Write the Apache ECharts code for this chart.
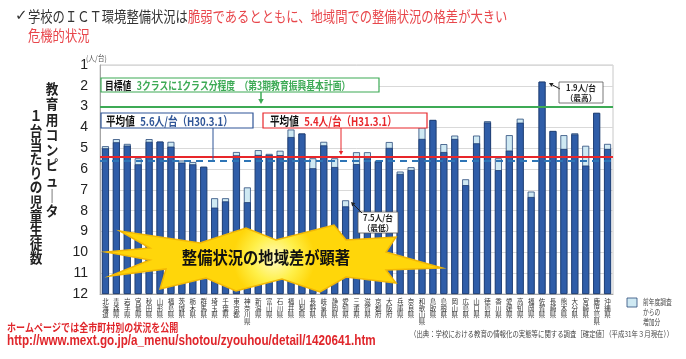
<!DOCTYPE html>
<html><head><meta charset="utf-8">
<script src="https://cdn.jsdelivr.net/npm/echarts@6/dist/echarts.min.js"></script>
<style>html,body{margin:0;padding:0;background:#fff}#c{width:686px;height:359px}</style>
</head><body><div id="c"></div>
<script>
// ---- data ----
const prefectures = ['北海道','青森県','岩手県','宮城県','秋田県','山形県','福島県','茨城県','栃木県','群馬県','埼玉県','千葉県','東京都','神奈川県','新潟県','富山県','石川県','福井県','山梨県','長野県','岐阜県','静岡県','愛知県','三重県','滋賀県','京都府','大阪府','兵庫県','奈良県','和歌山県','鳥取県','島根県','岡山県','広島県','山口県','徳島県','香川県','愛媛県','高知県','福岡県','佐賀県','長崎県','熊本県','大分県','宮崎県','鹿児島県','沖縄県'];
// students per computer, H31.3.1 (top of whole bar)
const currentValues = [4.9,4.56,4.79,5.48,4.56,4.68,4.69,5.59,5.66,5.89,7.4,7.4,5.18,6.88,5.09,5.27,5.12,4.1,4.29,5.48,4.69,5.48,7.5,5.19,5.19,5.59,4.7,6.12,5.91,4.0,3.64,4.8,4.39,6.49,4.39,3.7,5.48,4.37,3.58,7.08,1.8,4.17,4.37,4.28,4.88,3.3,4.79];
// students per computer, H30.3.1 (top of dark part)
const previousValues = [5.0,4.71,4.87,5.77,4.69,4.68,4.92,5.69,5.77,5.89,7.85,7.55,5.34,7.59,5.32,5.32,5.33,4.46,4.29,5.96,4.86,5.9,7.79,5.76,5.48,5.64,4.98,6.23,6.04,4.55,3.64,5.18,4.55,6.77,4.76,3.76,6.05,5.11,3.77,7.34,1.8,4.17,5.03,4.33,5.83,3.3,5.03];
const yTicks = [1,2,3,4,5,6,7,8,9,10,11,12];
const targetValue = 3;
const averageH31 = 5.4;
const averageH30 = 5.6;

const JP = '"Noto Sans CJK JP", sans-serif';
const chart = echarts.init(document.getElementById('c'), null, {renderer:'canvas'});

function arrow(x1,y1,x2,y2,color,w,hs){
  const dx=x2-x1, dy=y2-y1, L=Math.hypot(dx,dy), ux=dx/L, uy=dy/L;
  const bx=x2-ux*hs, by=y2-uy*hs, px=-uy*hs*0.55, py=ux*hs*0.55;
  return [
    {type:'line', shape:{x1,y1,x2:bx,y2:by}, style:{stroke:color,lineWidth:w}, z:20},
    {type:'polygon', shape:{points:[[x2,y2],[bx+px,by+py],[bx-px,by-py]]}, style:{fill:color}, z:20}
  ];
}
function vtext(str){ return str.split('').join('\n'); }

const burst = [[106,252],[150,248],[120,231],[200,243],[246,228],[276,240],[334,225],[346,240],[396,237],[386,252],[442,268],[386,270],[396,283],[346,277],[320,292],[282,279],[236,291],[206,278],[160,289],[166,269],[110,276],[150,260]];

const graphics = [
  {type:'text', x:15, y:16, style:{text:'✓', font:'15px "DejaVu Sans"', fill:'#333', textVerticalAlign:'middle'}},
  {type:'text', x:28, y:16, scaleX:0.82, style:{text:'{k|学校のＩＣＴ環境整備状況は}{r|脆弱であるとともに、地域間での整備状況の格差が大きい}', textVerticalAlign:'middle', rich:{k:{fill:'#333', font:'15px '+JP}, r:{fill:'#E8474C', font:'15px '+JP}}}},
  {type:'text', x:28, y:35, scaleX:0.82, style:{text:'危機的状況', fill:'#E8474C', font:'15px '+JP, textVerticalAlign:'middle'}},
  // y axis unit
  {type:'text', x:86, y:58, scaleX:0.85, style:{text:'(人/台)', fill:'#555', font:'8px '+JP, textVerticalAlign:'middle'}},
  // y axis title (vertical)
  {type:'text', x:52, y:81, scaleX:0.9, style:{text:vtext('教育用コンピュ｜タ'), fill:'#222', font:'bold 14px '+JP, lineHeight:15.3, textAlign:'center'}},
  {type:'text', x:36, y:109, scaleX:0.9, style:{text:vtext('１台当たりの児童生徒数'), fill:'#222', font:'bold 14px '+JP, lineHeight:14.2, textAlign:'center'}},
  // target box
  {type:'rect', shape:{x:101,y:78,width:278,height:14}, style:{fill:'#fff', stroke:'#3DAA55', lineWidth:1.2}, z:15},
  {type:'text', x:105, y:85.5, scaleX:0.8, z:16, style:{text:'{b|目標値}  {g|3クラスに1クラス分程度　（第3期教育振興基本計画）}', textVerticalAlign:'middle', rich:{b:{fill:'#111', font:'bold 11px '+JP}, g:{fill:'#3DAA55', font:'bold 11px '+JP}}}},
  ...arrow(261,92,261,104,'#3DAA55',1.5,5),
  // H30 average box
  {type:'rect', shape:{x:101,y:113,width:152,height:15}, style:{fill:'#fff', stroke:'#2F5597', lineWidth:1.2}, z:15},
  {type:'text', x:106, y:121, scaleX:0.8, z:16, style:{text:'{b|平均値}  {u|5.6人/台（H30.3.1）}', textVerticalAlign:'middle', rich:{b:{fill:'#111', font:'bold 12px '+JP}, u:{fill:'#2F5597', font:'bold 12px '+JP}}}},
  {type:'line', shape:{x1:213,y1:128,x2:213,y2:160}, style:{stroke:'#2F5597', lineWidth:1}, z:14},
  // H31 average box
  {type:'rect', shape:{x:263,y:113,width:164,height:15}, style:{fill:'#fff', stroke:'#E8262A', lineWidth:1.2}, z:15},
  {type:'text', x:270, y:121, scaleX:0.8, z:16, style:{text:'{b|平均値}  {r|5.4人/台（H31.3.1）}', textVerticalAlign:'middle', rich:{b:{fill:'#111', font:'bold 12px '+JP}, r:{fill:'#E8262A', font:'bold 12px '+JP}}}},
  ...arrow(341,128,341,155,'#E8262A',1,4),
  // lowest label
  {type:'rect', shape:{x:358,y:212,width:40,height:21}, style:{fill:'#fff', stroke:'#555', lineWidth:0.8}, z:15},
  {type:'text', x:378, y:222.5, scaleX:0.9, z:16, style:{text:'7.5人/台\n（最低）', fill:'#222', font:'bold 8.5px '+JP, lineHeight:10, textAlign:'center', textVerticalAlign:'middle'}},
  ...arrow(362,213,351,202,'#222',1,4),
  // highest label
  {type:'rect', shape:{x:559,y:82,width:44,height:21}, style:{fill:'#fff', stroke:'#555', lineWidth:0.8}, z:15},
  {type:'text', x:581, y:92.5, scaleX:0.9, z:16, style:{text:'1.9人/台\n（最高）', fill:'#222', font:'bold 8.5px '+JP, lineHeight:10, textAlign:'center', textVerticalAlign:'middle'}},
  ...arrow(560,89,549,83,'#222',1,4),
  // burst
  {type:'polygon', shape:{points:burst}, z:18, style:{stroke:'#F2B705', lineWidth:1.5, fill:{type:'radial', x:0.5, y:0.5, r:0.6, colorStops:[{offset:0,color:'#FFFBC4'},{offset:0.55,color:'#FFF04A'},{offset:1,color:'#FFD60A'}]}}},
  {type:'text', x:266, y:258, scaleX:0.9, z:19, style:{text:'整備状況の地域差が顕著', fill:'#111', font:'bold 17px '+JP, textAlign:'center', textVerticalAlign:'middle'}},
  // legend
  {type:'rect', shape:{x:627,y:298,width:10,height:9}, style:{fill:'#CFE9F3', stroke:'#2a4a7a', lineWidth:0.8}},
  {type:'text', x:643, y:297, scaleX:0.72, style:{text:'前年度調査\nからの\n増加分', fill:'#444', font:'8px '+JP, lineHeight:10}},
  // source
  {type:'text', x:410, y:333.5, scaleX:0.8, style:{text:'（出典：学校における教育の情報化の実態等に関する調査［確定値］（平成31年３月現在））', fill:'#444', font:'8px '+JP, textVerticalAlign:'middle'}},
  // bottom-left red texts
  {type:'text', x:7, y:328, scaleX:0.82, style:{text:'ホームページでは全市町村別の状況を公開', fill:'#E0262B', font:'bold 11px '+JP, textVerticalAlign:'middle'}},
  {type:'text', x:7, y:341.5, scaleX:0.834, style:{text:'http://www.mext.go.jp/a_menu/shotou/zyouhou/detail/1420641.htm', fill:'#E0262B', font:'bold 14px "Liberation Sans"', textVerticalAlign:'middle'}}
];

const option = {
  animation:false,
  backgroundColor:'#fff',
  grid:{left:100, right:73, top:65, bottom:65, show:true, borderColor:'#c8c8c8', borderWidth:1},
  xAxis:{type:'category', data:prefectures, axisTick:{show:false},
    axisLine:{lineStyle:{color:'#a6a6a6'}},
    axisLabel:{interval:0, fontSize:6.5, lineHeight:6.8, color:'#333', margin:4, verticalAlign:'top', fontFamily:'Noto Sans CJK JP', formatter:v=>vtext(v)}},
  yAxis:{type:'value', inverse:true, min:yTicks[0], max:yTicks[yTicks.length-1], interval:1, startValue:12,
    axisLine:{show:true, lineStyle:{color:'#a6a6a6'}}, axisTick:{show:false},
    splitLine:{lineStyle:{color:'#d9d9d9'}},
    axisLabel:{fontSize:14, color:'#222', margin:12, fontFamily:'Liberation Sans'}},
  series:[
    {name:'前年度調査からの増加分', type:'bar', data:currentValues, barWidth:7, barGap:'-100%',
      itemStyle:{color:'#CFE9F3', borderColor:'#2a4a7a', borderWidth:0.8}},
    {name:'H30.3.1', type:'bar', data:previousValues, barWidth:7, barGap:'-100%',
      itemStyle:{color:'#2F5DA8', borderColor:'#1c3a6e', borderWidth:0.8},
      markLine:{symbol:'none', silent:true, label:{show:false}, animation:false,
        data:[
          {yAxis:targetValue, lineStyle:{color:'#3DAA55', width:2.2, type:'solid'}},
          {yAxis:averageH30, lineStyle:{color:'#2E75B6', width:1.8, type:[7,5]}},
          {yAxis:averageH31, lineStyle:{color:'#E8262A', width:2.2, type:'solid'}}
        ]}}
  ],
  graphic:graphics
};
chart.setOption(option);
</script></body></html>
